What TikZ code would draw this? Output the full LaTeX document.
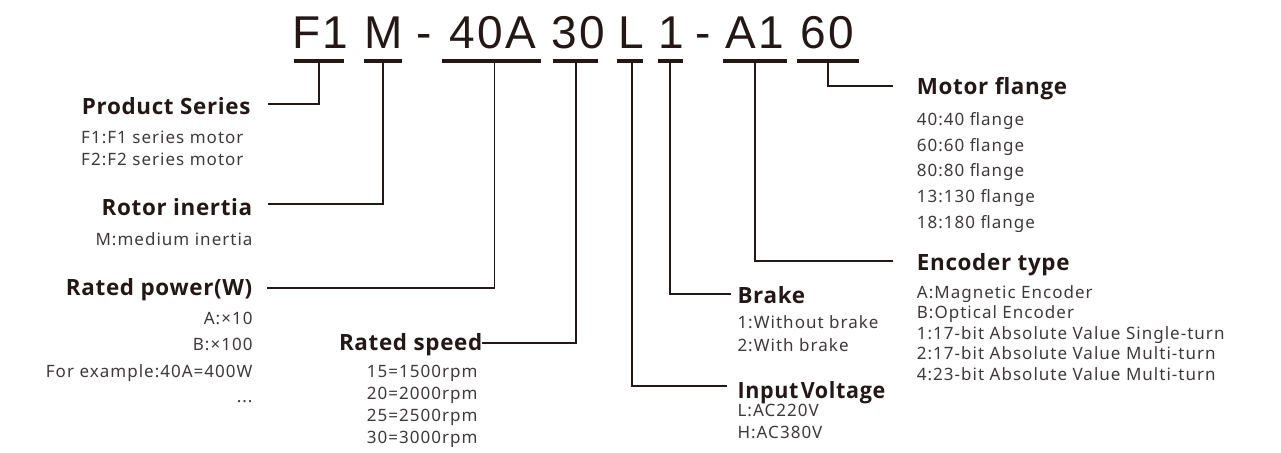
\documentclass[tikz,border=0pt]{standalone}
\usepackage{fontspec}
\usepackage{graphicx}
\setmainfont{Noto Sans}
\newfontfamily\codefont{Liberation Sans}[LetterSpace=5]
\newfontfamily\labfont{Noto Sans}[LetterSpace=6]
\newfontfamily\headfont{Open Sans}[LetterSpace=3]
\definecolor{ink}{HTML}{231815}
\definecolor{body}{HTML}{3E3A39}
\tikzset{
  x=1pt, y=-1pt,
  codetxt/.style={anchor=base, inner sep=0pt, text=ink, font=\codefont\fontsize{46}{46}\selectfont},
  bar/.style={fill=ink, draw=none, inner sep=0pt, minimum height=4.5pt},
  head/.style={inner sep=0pt, text=ink, font=\headfont\bfseries\fontsize{22.4}{26}\selectfont},
  bodyt/.style={inner sep=0pt, text=body, font=\labfont\fontsize{17}{20}\selectfont},
  conn/.style={draw=ink, line width=1.8pt},
}
\begin{document}
\begin{tikzpicture}
\useasboundingbox (0,0) rectangle (1281,452);
% code text
\node[codetxt] (cF1) at (320,48.3) {F1};
\node[codetxt] (cM) at (384,48.3) {M};
\node[codetxt] (cD1) at (424,48.3) {-};
\node[codetxt] (c40A) at (493,48.3) {40A};
\node[codetxt] (c30) at (578,48.3) {30};
\node[codetxt] (cL) at (631.5,48.3) {L};
\node[codetxt] (c1) at (671.5,48.3) {1};
\node[codetxt] (cD2) at (703,48.3) {-};
\node[codetxt] (cA1) at (754.5,48.3) {A1};
\node[codetxt] (c60) at (827.5,48.3) {60};
% bars
\node[bar, minimum width=50pt] (bF1) at (319,61) {};
\node[bar, minimum width=37.7pt] (bM) at (382.9,61) {};
\node[bar, minimum width=98.7pt] (b40A) at (491.7,61) {};
\node[bar, minimum width=44.4pt] (b30) at (575.5,61) {};
\node[bar, minimum width=26pt] (bL) at (630.3,61) {};
\node[bar, minimum width=25.6pt] (b1) at (670.5,61) {};
\node[bar, minimum width=63.4pt] (bA1) at (755,61) {};
\node[bar, minimum width=62.3pt] (b60) at (827.9,61) {};
% headings
\node[head, anchor=base west] (hPS) at (81.7,114.3) {Product Series};
\node[head, anchor=base east] (hRI) at (252.5,215) {Rotor inertia};
\node[head, anchor=base east] (hRP) at (252.5,295) {Rated power(W)};
\node[head, anchor=base east] (hRS) at (482.5,350.7) {Rated speed};
\node[head, anchor=base west] (hBR) at (737.3,303.3) {Brake};
\node[head, anchor=base west] (hIV) at (737.3,398.3) {\scalebox{0.96}[1]{\spaceskip=2.5pt Input Voltage}};
\node[head, anchor=base west] (hMF) at (916.7,94.3) {Motor flange};
\node[head, anchor=base west] (hET) at (916.7,270) {Encoder type};
% line ends
\coordinate (ePS) at (268.3,104);
\coordinate (eRI) at (268.3,204.3);
\coordinate (eRP) at (267.3,288.3);
\coordinate (eRS) at (482,343.3);
\coordinate (eBR) at (730.5,294);
\coordinate (eIV) at (727.3,386);
\coordinate (eMF) at (892.7,86);
\coordinate (eET) at (893.3,261);
% connectors
\draw[conn] (bF1.south) |- (ePS);
\draw[conn] (bM.south) |- (eRI);
\draw[conn] ([xshift=2.8pt]b40A.south) |- (eRP);
\draw[conn] ([xshift=0.5pt]b30.south) |- (eRS);
\draw[conn] ([xshift=1.4pt]bL.south) |- (eIV);
\draw[conn] ([xshift=-0.2pt]b1.south) |- (eBR);
\draw[conn] (bA1.south) |- (eET);
\draw[conn] (b60.south) |- (eMF);
% body texts
\node[bodyt, anchor=base west] (tPS1) at (81,143.5) {F1:F1 series motor};
\node[bodyt, anchor=base west] (tPS2) at (81,165.5) {F2:F2 series motor};
\node[bodyt, anchor=base east] (tRI1) at (252.7,245.5) {M:medium inertia};
\node[bodyt, anchor=base east] (tRP1) at (252.7,324.5) {A:×10};
\node[bodyt, anchor=base east] (tRP2) at (252.7,350) {B:×100};
\node[bodyt, anchor=base east] (tRP3) at (252.7,377) {For example:40A=400W};
\node[bodyt, anchor=base east] (tRP4) at (252.7,402.7) {...};
\node[bodyt, anchor=base west] (tRS1) at (366.7,377) {15=1500rpm};
\node[bodyt, anchor=base west] (tRS2) at (366.7,399) {20=2000rpm};
\node[bodyt, anchor=base west] (tRS3) at (366.7,421) {25=2500rpm};
\node[bodyt, anchor=base west] (tRS4) at (366.7,443.5) {30=3000rpm};
\node[bodyt, anchor=base west] (tBR1) at (737.3,328) {1:Without brake};
\node[bodyt, anchor=base west] (tBR2) at (737.3,351) {2:With brake};
\node[bodyt, anchor=base west] (tIV1) at (737.3,416.5) {L:AC220V};
\node[bodyt, anchor=base west] (tIV2) at (737.3,438.5) {H:AC380V};
\node[bodyt, anchor=base west] (tMF1) at (916.7,125.5) {40:40 flange};
\node[bodyt, anchor=base west] (tMF2) at (916.7,151) {60:60 flange};
\node[bodyt, anchor=base west] (tMF3) at (916.7,176.5) {80:80 flange};
\node[bodyt, anchor=base west] (tMF4) at (916.7,202.5) {13:130 flange};
\node[bodyt, anchor=base west] (tMF5) at (916.7,228.5) {18:180 flange};
\node[bodyt, anchor=base west] (tET1) at (916.7,298) {A:Magnetic Encoder};
\node[bodyt, anchor=base west] (tET2) at (916.7,318.6) {B:Optical Encoder};
\node[bodyt, anchor=base west] (tET3) at (916.7,339.2) {1:17-bit Absolute Value Single-turn};
\node[bodyt, anchor=base west] (tET4) at (916.7,359.8) {2:17-bit Absolute Value Multi-turn};
\node[bodyt, anchor=base west] (tET5) at (916.7,380.4) {4:23-bit Absolute Value Multi-turn};
\end{tikzpicture}
\end{document}
